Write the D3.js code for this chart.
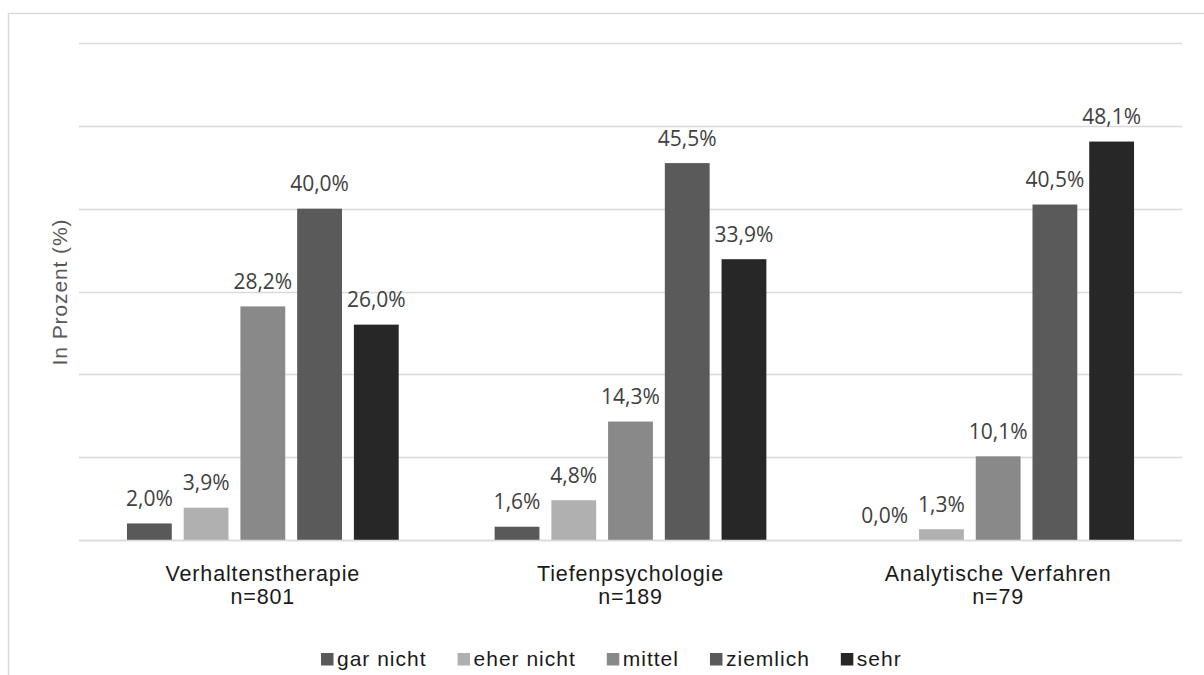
<!DOCTYPE html>
<html><head><meta charset="utf-8">
<script src="https://cdn.jsdelivr.net/npm/d3@7"></script>
<style>body{margin:0;background:#fff;}svg{display:block;}</style>
</head><body>
<svg id="chart" width="1204" height="675"></svg>
<script>
const categories = ["Verhaltenstherapie", "Tiefenpsychologie", "Analytische Verfahren"];
const sampleSizes = ["n=801", "n=189", "n=79"];
const seriesNames = ["gar nicht", "eher nicht", "mittel", "ziemlich", "sehr"];
const garNicht   = [2.0, 1.6, 0.0];
const eherNicht  = [3.9, 4.8, 1.3];
const mittel     = [28.2, 14.3, 10.1];
const ziemlich   = [40.0, 45.5, 40.5];
const sehr       = [26.0, 33.9, 48.1];
const yTicks = [0, 10, 20, 30, 40, 50, 60];
const colors = ["#595959", "#b0b0b0", "#898989", "#5a5a5a", "#272727"];

const seriesValues = [garNicht, eherNicht, mittel, ziemlich, sehr];

const svg = d3.select("#chart");
// outer chart frame
svg.append("rect").attr("x", 8.5).attr("y", 13.5).attr("width", 1300).attr("height", 800)
  .attr("fill", "none").attr("stroke", "#d9d9d9").attr("stroke-width", 1.5);

const pLeft = 79, pRight = 1182, pTop = 43, pBottom = 540;
const y = d3.scaleLinear().domain([0, 60]).range([pBottom, pTop]);
const x0 = d3.scaleBand().domain(categories).range([pLeft, pRight]).padding(0);
const inner = 42;
const x1 = d3.scaleBand().domain(seriesNames).range([inner, x0.bandwidth() - inner]).paddingInner(0.21).paddingOuter(0.105);

// gridlines
svg.append("g").selectAll("line").data(yTicks).join("line")
  .attr("x1", pLeft).attr("x2", pRight)
  .attr("y1", d => Math.round(y(d)) + 0.5).attr("y2", d => Math.round(y(d)) + 0.5)
  .attr("stroke", "#d9d9d9").attr("stroke-width", 1.5);

// bars
const groups = svg.append("g").selectAll("g").data(categories).join("g")
  .attr("transform", c => `translate(${x0(c)},0)`);

groups.each(function(c, ci) {
  const g = d3.select(this);
  seriesNames.forEach((s, si) => {
    const v = seriesValues[si][ci];
    g.append("rect")
      .attr("x", x1(s)).attr("width", x1.bandwidth())
      .attr("y", y(v)).attr("height", pBottom - y(v))
      .attr("fill", colors[si]);
    g.append("text")
      .attr("x", x1(s) + x1.bandwidth() / 2)
      .attr("y", y(v) - 17.5)
      .attr("text-anchor", "middle")
      .attr("font-family", "'Open Sans', sans-serif")
      .attr("font-size", 21)
      .attr("fill", "#404040")
      .text(v.toFixed(1).replace(".", ",") + "%");
  });
});

// baseline on top
svg.append("line").attr("x1", pLeft).attr("x2", pRight)
  .attr("y1", pBottom + 0.5).attr("y2", pBottom + 0.5)
  .attr("stroke", "#d9d9d9").attr("stroke-width", 1.5);

// category labels
const catG = svg.append("g").attr("font-family", "'Liberation Sans', Arial, sans-serif")
  .attr("font-size", 21.5).attr("letter-spacing", 0.85).attr("fill", "#1a1a1a").attr("text-anchor", "middle");
categories.forEach((c, i) => {
  const cx = x0(c) + x0.bandwidth() / 2;
  catG.append("text").attr("x", cx).attr("y", 581).text(c);
  catG.append("text").attr("x", cx).attr("y", 603.5).text(sampleSizes[i]);
});

// y axis title
svg.append("text")
  .attr("transform", "translate(67,292) rotate(-90)")
  .attr("text-anchor", "middle")
  .attr("font-family", "'Liberation Sans', Arial, sans-serif")
  .attr("font-size", 21).attr("letter-spacing", 0.9).attr("fill", "#595959")
  .text("In Prozent (%)");

// legend
const leg = svg.append("g").attr("font-family", "'Liberation Sans', Arial, sans-serif")
  .attr("font-size", 21).attr("letter-spacing", 1).attr("fill", "#1a1a1a");
let lx = 321;
seriesNames.forEach((s, i) => {
  leg.append("rect").attr("x", lx).attr("y", 653).attr("width", 12.5).attr("height", 12.5).attr("fill", colors[i]);
  const t = leg.append("text").attr("x", lx + 16).attr("y", 666).text(s);
  lx += 16 + t.node().getComputedTextLength() + 31;
});
</script>
</body></html>
